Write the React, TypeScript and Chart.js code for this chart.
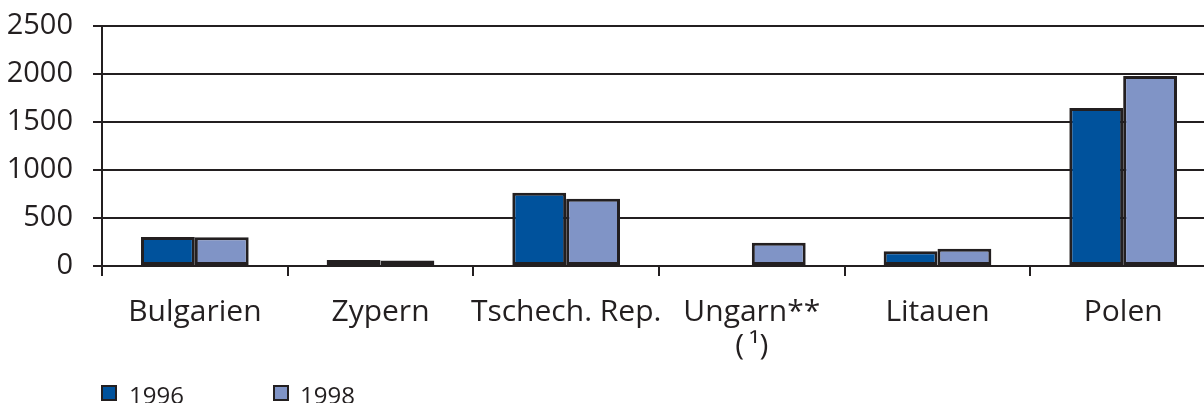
import React, { useEffect, useRef } from "react";
import { Chart, registerables } from "chart.js";

Chart.register(...registerables);

const categories: (string | string[])[] = [
  "Bulgarien",
  "Zypern",
  "Tschech. Rep.",
  ["Ungarn**", "(\u2009\u00b9)"],
  "Litauen",
  "Polen",
];
const seriesNames = ["1996", "1998"];
const values1996: (number | null)[] = [302, 62, 763, null, 153, 1647];
const values1998: (number | null)[] = [300, 56, 700, 242, 180, 1980];
const seriesColors = ["#00529c", "#8094c6"];
const yTicks = [0, 500, 1000, 1500, 2000, 2500];

const INK = "#231f20";
const FONT = "'Open Sans', 'Noto Sans', sans-serif";

export default function App() {
  const ref = useRef<HTMLCanvasElement | null>(null);

  useEffect(() => {
    if (!ref.current) return;
    const chart = new Chart(ref.current, {
      type: "bar",
      data: {
        labels: categories,
        datasets: [
          {
            label: seriesNames[0],
            data: values1996,
            backgroundColor: seriesColors[0],
            borderColor: INK,
            borderWidth: 3,
            borderSkipped: false,
            categoryPercentage: 0.58,
            barPercentage: 1,
          },
          {
            label: seriesNames[1],
            data: values1998,
            backgroundColor: seriesColors[1],
            borderColor: INK,
            borderWidth: 3,
            borderSkipped: false,
            categoryPercentage: 0.58,
            barPercentage: 1,
          },
        ],
      },
      options: {
        responsive: false,
        animation: false,
        layout: { padding: { top: 26, right: 16, left: 0, bottom: 0 } },
        plugins: {
          legend: { display: false },
          tooltip: { enabled: false },
          title: { display: false },
        },
        scales: {
          x: {
            offset: true,
            grid: {
              offset: true,
              drawOnChartArea: false,
              drawTicks: true,
              tickLength: 10,
              color: INK,
              lineWidth: 2,
            },
            border: { display: true, color: INK, width: 2 },
            ticks: {
              color: INK,
              padding: 19,
              font: { family: FONT, size: 30, lineHeight: 1.15 },
              maxRotation: 0,
              autoSkip: false,
            },
            afterFit: (scale: any) => {
              scale.height = 137;
              scale.paddingLeft = 0;
              scale.paddingRight = 0;
            },
          },
          y: {
            min: yTicks[0],
            max: yTicks[yTicks.length - 1],
            afterBuildTicks: (scale: any) => {
              scale.ticks = yTicks.map((v) => ({ value: v }));
            },
            grid: {
              color: INK,
              lineWidth: 2,
              tickLength: 9,
              drawTicks: true,
            },
            border: { display: true, color: INK, width: 2 },
            ticks: {
              color: INK,
              padding: 20,
              font: { family: FONT, size: 29 },
              callback: (v: any) => String(v),
            },
            afterFit: (scale: any) => {
              scale.width = 102;
              scale.paddingTop = 0;
              scale.paddingBottom = 0;
            },
          },
        },
      },
    });
    return () => chart.destroy();
  }, []);

  const legendItem = (i: number, boxLeft: number, textLeft: number) => (
    <React.Fragment key={i}>
      <div
        style={{
          position: "absolute",
          left: boxLeft,
          top: 385,
          width: 16,
          height: 16,
          boxSizing: "border-box",
          background: seriesColors[i],
          border: `2px solid ${INK}`,
        }}
      />
      <div
        style={{
          position: "absolute",
          left: textLeft,
          top: 383,
          fontFamily: FONT,
          fontSize: 24,
          lineHeight: "24px",
          color: INK,
          whiteSpace: "nowrap",
        }}
      >
        {seriesNames[i]}
      </div>
    </React.Fragment>
  );

  return (
    <div
      style={{
        position: "fixed",
        left: 0,
        top: 0,
        width: 1204,
        height: 403,
        overflow: "hidden",
        background: "#ffffff",
      }}
    >
      <canvas
        ref={ref}
        width={1232}
        height={403}
        style={{ position: "absolute", left: 0, top: 0, width: 1232, height: 403 }}
      />
      {legendItem(0, 101, 129)}
      {legendItem(1, 273, 300)}
    </div>
  );
}
